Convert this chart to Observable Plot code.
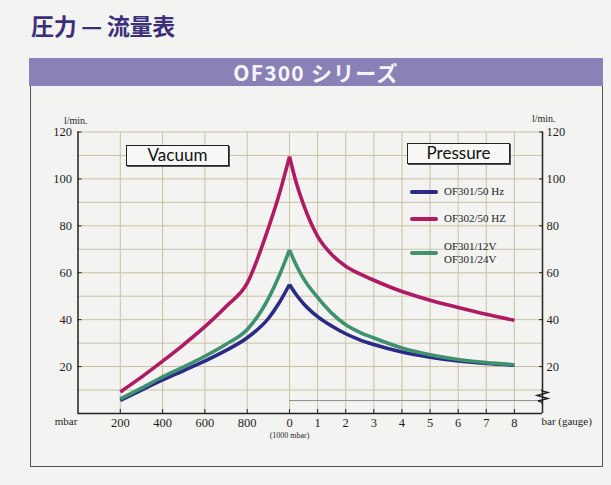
<!DOCTYPE html>
<html><head><meta charset="utf-8">
<script src="https://cdn.jsdelivr.net/npm/d3@7"></script>
<script src="https://cdn.jsdelivr.net/npm/@observablehq/plot@0.6"></script>
<style>
body{margin:0;background:#f3f3f1;}
#wrap{position:relative;width:611px;height:485px;overflow:hidden;font-family:"Liberation Serif",serif;}
#title{position:absolute;left:31px;top:8px;font-weight:bold;font-size:23px;font-family:"Noto Sans CJK JP",sans-serif;color:#3b2f7c;letter-spacing:-0.3px;white-space:nowrap}
#banner{position:absolute;left:29px;top:58px;width:574px;height:28px;background:#8a81b6;color:#f6f4fb;font-weight:bold;font-size:21px;font-family:"Noto Sans CJK JP",sans-serif;text-align:center;line-height:28px;letter-spacing:1.2px}
#box{position:absolute;left:30px;top:86px;width:571px;height:380px;border:1px solid #555;border-top:none}
#chart{position:absolute;left:0;top:0}
.tag{position:absolute;border:1.5px solid #222;background:#f8f8f6;font-family:Lato,sans-serif;font-size:17px;color:#111;text-align:center;box-shadow:1px 1px 0 #555;box-sizing:border-box}
.leg{position:absolute;left:410px;font-family:"Liberation Serif",serif;font-size:11px;color:#222;display:flex;align-items:center}
.leg .sw{width:28px;height:4px;border-radius:2px;margin-right:6px}
</style></head>
<body>
<div id="wrap">
  <div id="title">圧力 — 流量表</div>
  <div id="banner">OF300 シリーズ</div>
  <div id="box"></div>
  <div id="chart"></div>
</div>
<script>
// ---- data ----
const vacuumMbar = [200, 300, 400, 500, 600, 700, 800, 900, 950, 1000];      // absolute mbar
const pressureBar = [0, 0.25, 0.5, 1, 1.5, 2, 2.5, 3, 4, 5, 6, 7, 8];        // bar (gauge)

const seriesNames = ["OF301/50 Hz", "OF302/50 HZ", "OF301/12V\nOF301/24V"];
const seriesColors = ["#2b2a86", "#b01a62", "#3f9170"];

const vac_OF301_50 = [5.6, 10.0, 14.3, 18.3, 22.4, 26.9, 32.3, 40.5, 47.0, 55.0];
const vac_OF302_50 = [9.2, 15.5, 22.3, 29.4, 37.0, 45.6, 55.6, 79.0, 93.0, 109.5];
const vac_OF301_V  = [6.2, 10.8, 15.6, 19.9, 24.4, 29.5, 35.8, 49.0, 58.5, 69.7];

const prs_OF301_50 = [55.0, 50.5, 46.8, 41.3, 37.3, 34.0, 31.4, 29.4, 26.2, 24.0, 22.4, 21.3, 20.6];
const prs_OF302_50 = [109.5, 98.0, 89.0, 75.5, 67.8, 62.8, 59.5, 56.8, 52.0, 48.3, 45.2, 42.3, 39.7];
const prs_OF301_V  = [69.7, 63.0, 57.5, 49.5, 42.8, 37.8, 34.6, 32.2, 27.9, 25.0, 23.0, 21.7, 20.8];

const yTicks = [20, 40, 60, 80, 100, 120];
const yGrid = [10, 20, 30, 40, 50, 60, 70, 80, 90, 100, 110, 120];
const vacTicks = [200, 400, 600, 800, 1000];
const vacTickLabels = ["200", "400", "600", "800", "0"];
const prsTicks = [1, 2, 3, 4, 5, 6, 7, 8];
const prsTickLabels = ["1", "2", "3", "4", "5", "6", "7", "8"];
const xMaxBar = 9;
const breakLevel = 5.5;

// ---- build table: pressure side converted to absolute mbar ----
const toAbs = bar => 1000 + bar * 1000;
const vacSeries = [vac_OF301_50, vac_OF302_50, vac_OF301_V];
const prsSeries = [prs_OF301_50, prs_OF302_50, prs_OF301_V];
const rows = [];
seriesNames.forEach((name, s) => {
  vacuumMbar.forEach((m, i) => rows.push({x: m, y: vacSeries[s][i], series: name, part: name + "-v"}));
  pressureBar.forEach((b, i) => rows.push({x: toAbs(b), y: prsSeries[s][i], series: name, part: name + "-p"}));
});

const xTickVals = [...vacTicks, ...prsTicks.map(toAbs)];
const xTickText = new Map(xTickVals.map((v, i) => [v, [...vacTickLabels, ...prsTickLabels][i]]));
const xMax = toAbs(xMaxBar);

const gridColor = "#c9c2a3";
const axisColor = "#222";
const textColor = "#1e1e1e";

const chart = Plot.plot({
  width: 611, height: 485,
  marginLeft: 77.5, marginRight: 69, marginTop: 131.5, marginBottom: 72,
  style: {background: "transparent", fontFamily: "Liberation Serif, serif", fontSize: "12.5px", color: textColor, overflow: "visible"},
  x: {type: "linear", domain: [0, 1000, xMax], range: [77.5, 289, 542]},
  y: {domain: [0, 120], range: [413, 131.5]},
  color: {domain: seriesNames, range: seriesColors},
  marks: [
    Plot.ruleX(xTickVals, {y1: 0, y2: 120, stroke: gridColor, strokeWidth: 1}),
    Plot.ruleY(yGrid, {x1: 0, x2: xMax, stroke: gridColor, strokeWidth: 1}),
    Plot.ruleY([breakLevel], {x1: 1000, x2: xMax, stroke: "#8a8a86", strokeWidth: 1}),
    Plot.line(rows, {x: "x", y: "y", z: "part", stroke: "series", strokeWidth: 3.6, curve: "monotone-x", strokeLinecap: "butt"}),
    Plot.ruleX([0, xMax], {y1: 0, y2: 120, stroke: axisColor, strokeWidth: 1.5}),
    Plot.ruleY([0], {x1: 0, x2: xMax, stroke: axisColor, strokeWidth: 1.5}),
    Plot.axisY(yTicks, {anchor: "left", tickSize: -4, tickPadding: 10, label: null, stroke: axisColor, fill: textColor, fontSize: 12.5}),
    Plot.axisY(yTicks, {anchor: "right", tickSize: -4, tickPadding: 8, label: null, stroke: axisColor, fill: textColor, fontSize: 12.5}),
    Plot.axisX(xTickVals, {anchor: "bottom", tickSize: -4, tickPadding: 9, label: null, stroke: axisColor, fill: textColor, fontSize: 12.5, tickFormat: d => xTickText.get(d)}),
    Plot.text(["mbar"], {frameAnchor: "bottom-left", dx: -12, dy: 11, fontSize: 11, textAnchor: "middle", fill: textColor}),
    Plot.text(["bar (gauge)"], {frameAnchor: "bottom-right", dx: -1, dy: 11, fontSize: 11, textAnchor: "start", fill: textColor}),
    Plot.text(["(1000 mbar)"], {x: [1000], frameAnchor: "bottom", dy: 24, fontSize: 8, fill: textColor}),
    Plot.text(["l/min."], {frameAnchor: "top-left", dx: -14, dy: -15, fontSize: 10, fill: textColor}),
    Plot.text(["l/min."], {frameAnchor: "top-right", dx: 13, dy: -17, fontSize: 10, fill: textColor})
  ]
});
document.getElementById("chart").appendChild(chart);

const wrap = document.getElementById("wrap");
// Vacuum / Pressure boxes
[["Vacuum", 126, 145], ["Pressure", 407, 143]].forEach(([t, l, tp]) => {
  const d = document.createElement("div");
  d.className = "tag";
  d.style.left = l + "px"; d.style.top = tp + "px";
  d.style.width = "103px"; d.style.height = "21px"; d.style.lineHeight = "18px";
  d.textContent = t;
  wrap.appendChild(d);
});
// legend
const legTops = [192, 219, 253];
seriesNames.forEach((name, i) => {
  const d = document.createElement("div");
  d.className = "leg";
  const lines = name.split("\n");
  d.style.top = (legTops[i] - (lines.length === 1 ? 7 : 13)) + "px";
  const sw = document.createElement("div");
  sw.className = "sw"; sw.style.background = seriesColors[i];
  const tx = document.createElement("div");
  tx.style.lineHeight = "13px";
  tx.innerHTML = lines.join("<br>");
  d.appendChild(sw); d.appendChild(tx);
  wrap.appendChild(d);
});
// axis break zigzag on right axis
const ns = "http://www.w3.org/2000/svg";
const zz = document.createElementNS(ns, "svg");
zz.setAttribute("width", 611); zz.setAttribute("height", 485);
zz.style.position = "absolute"; zz.style.left = "0"; zz.style.top = "0"; zz.style.pointerEvents = "none";
const p = document.createElementNS(ns, "polyline");
p.setAttribute("points", "542,389 542,391 548,392.5 537,395.5 548,398.5 538,401 542,402 542,404");
p.setAttribute("fill", "none"); p.setAttribute("stroke", "#222"); p.setAttribute("stroke-width", "1.3");
zz.appendChild(p);
wrap.appendChild(zz);
</script>
</body></html>
